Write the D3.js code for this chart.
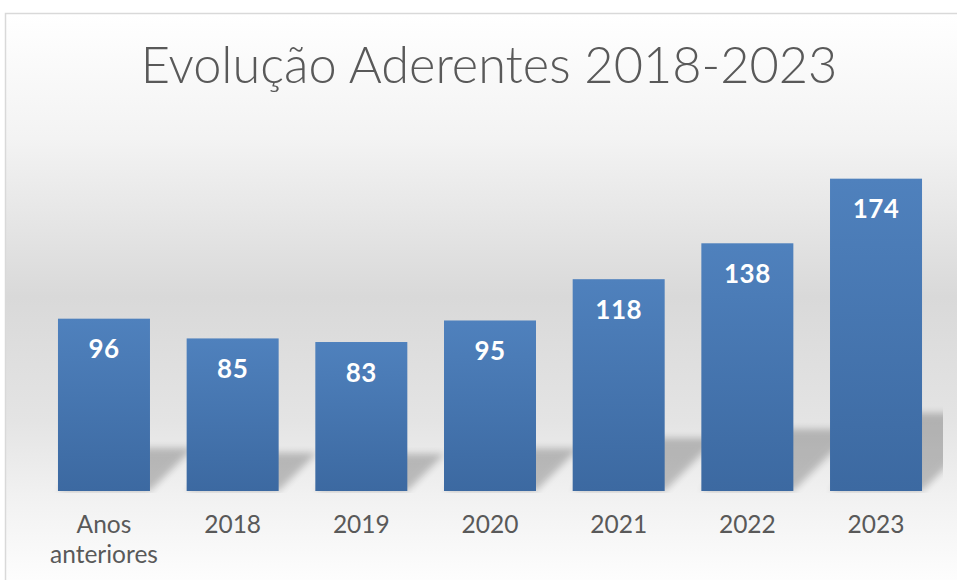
<!DOCTYPE html>
<html>
<head>
<meta charset="utf-8">
<script src="https://cdn.jsdelivr.net/npm/d3@7"></script>
<style>
  html, body { margin: 0; padding: 0; background: #ffffff; }
  svg { display: block; }
</style>
</head>
<body>
<svg id="chart" width="957" height="580"></svg>
<script>
// data
let categories = ["Anos anteriores", "2018", "2019", "2020", "2021", "2022", "2023"];
let values = [96, 85, 83, 95, 118, 138, 174];
let titleText = "Evolução Aderentes 2018-2023";

let svg = d3.select("#chart");
let base = 491;

let defs = svg.append("defs");

// chart background gradient (white -> gray -> white)
let bg = defs.append("linearGradient")
    .attr("id", "bgGrad")
    .attr("gradientUnits", "userSpaceOnUse")
    .attr("x1", 0).attr("y1", 14).attr("x2", 0).attr("y2", 580);
[[0, "#ffffff"], [0.22, "#f3f3f3"], [0.5, "#d9d9d9"], [0.72, "#e4e4e4"], [0.85, "#f1f1f1"], [1, "#fdfdfd"]]
    .forEach(s => bg.append("stop").attr("offset", s[0]).attr("stop-color", s[1]));

let barGrad = defs.append("linearGradient")
    .attr("id", "barGrad")
    .attr("x1", 0).attr("y1", 0).attr("x2", 0).attr("y2", 1);
barGrad.append("stop").attr("offset", 0).attr("stop-color", "#4f81bd");
barGrad.append("stop").attr("offset", 1).attr("stop-color", "#3c69a1");

defs.append("filter")
    .attr("id", "blur")
    .attr("x", "-20%").attr("y", "-20%").attr("width", "140%").attr("height", "140%")
    .append("feGaussianBlur").attr("stdDeviation", 3.5);

defs.append("clipPath").attr("id", "plotClip")
    .append("rect").attr("x", 0).attr("y", 0).attr("width", 943).attr("height", base + 2);

svg.append("rect")
    .attr("x", 5.5).attr("y", 13.5)
    .attr("width", 1000).attr("height", 700)
    .attr("fill", "url(#bgGrad)")
    .attr("stroke", "#d9d9d9")
    .attr("stroke-width", 1.5);

// scales
let xScale = d3.scaleBand()
    .domain(categories)
    .range([21.3, 958.7])
    .paddingInner(0.285)
    .paddingOuter(0.285);

let yScale = d3.scaleLinear()
    .domain([0, 200])
    .range([base, 132]);

// title
svg.append("text")
    .attr("x", 489)
    .attr("y", 83)
    .attr("text-anchor", "middle")
    .style("font-family", "Lato, 'Open Sans', sans-serif")
    .style("font-weight", 300)
    .style("font-size", "50.5px")
    .style("fill", "#595959")
    .text(titleText);

// perspective shadows behind bars
let sh = 0.25;
svg.append("g")
    .attr("clip-path", "url(#plotClip)")
    .selectAll("path").data(values).enter().append("path")
    .attr("d", function (d, i) {
        let x0 = xScale(categories[i]);
        let x1 = x0 + xScale.bandwidth();
        let h = base - yScale(d);
        let off = sh * h;
        return "M" + x0 + "," + base + "L" + x1 + "," + base +
            "L" + (x1 + off) + "," + (base - off) + "L" + (x0 + off) + "," + (base - off) + "Z";
    })
    .attr("fill", "#000")
    .attr("opacity", 0.22)
    .attr("filter", "url(#blur)");

// bars
svg.append("g").selectAll("rect").data(values).enter().append("rect")
    .attr("x", (d, i) => xScale(categories[i]))
    .attr("y", d => yScale(d))
    .attr("width", xScale.bandwidth())
    .attr("height", d => base - yScale(d))
    .attr("fill", "url(#barGrad)");

// value labels
svg.append("g").selectAll("text").data(values).enter().append("text")
    .attr("x", (d, i) => xScale(categories[i]) + xScale.bandwidth() / 2)
    .attr("y", d => yScale(d) + 39.5)
    .attr("text-anchor", "middle")
    .style("font-family", "Lato, 'Open Sans', sans-serif")
    .style("font-weight", "bold")
    .style("font-size", "26px")
    .style("letter-spacing", "0.5px")
    .style("fill", "#ffffff")
    .text(d => d);

// category axis labels
let xAxis = d3.axisBottom(xScale).tickSize(0).tickPadding(0);
let axisG = svg.append("g")
    .attr("transform", "translate(0," + base + ")")
    .call(xAxis);
axisG.select(".domain").remove();
axisG.selectAll(".tick text").remove();
axisG.selectAll(".tick").each(function (d) {
    let words = d.split(" ");
    let t = d3.select(this).append("text")
        .attr("text-anchor", "middle")
        .style("font-family", "Lato, 'Open Sans', sans-serif")
        .style("font-size", "24.5px")
        .style("fill", "#595959");
    words.forEach(function (w, j) {
        t.append("tspan").attr("x", 0).attr("y", 42 + j * 30).text(w);
    });
});
</script>
</body>
</html>
